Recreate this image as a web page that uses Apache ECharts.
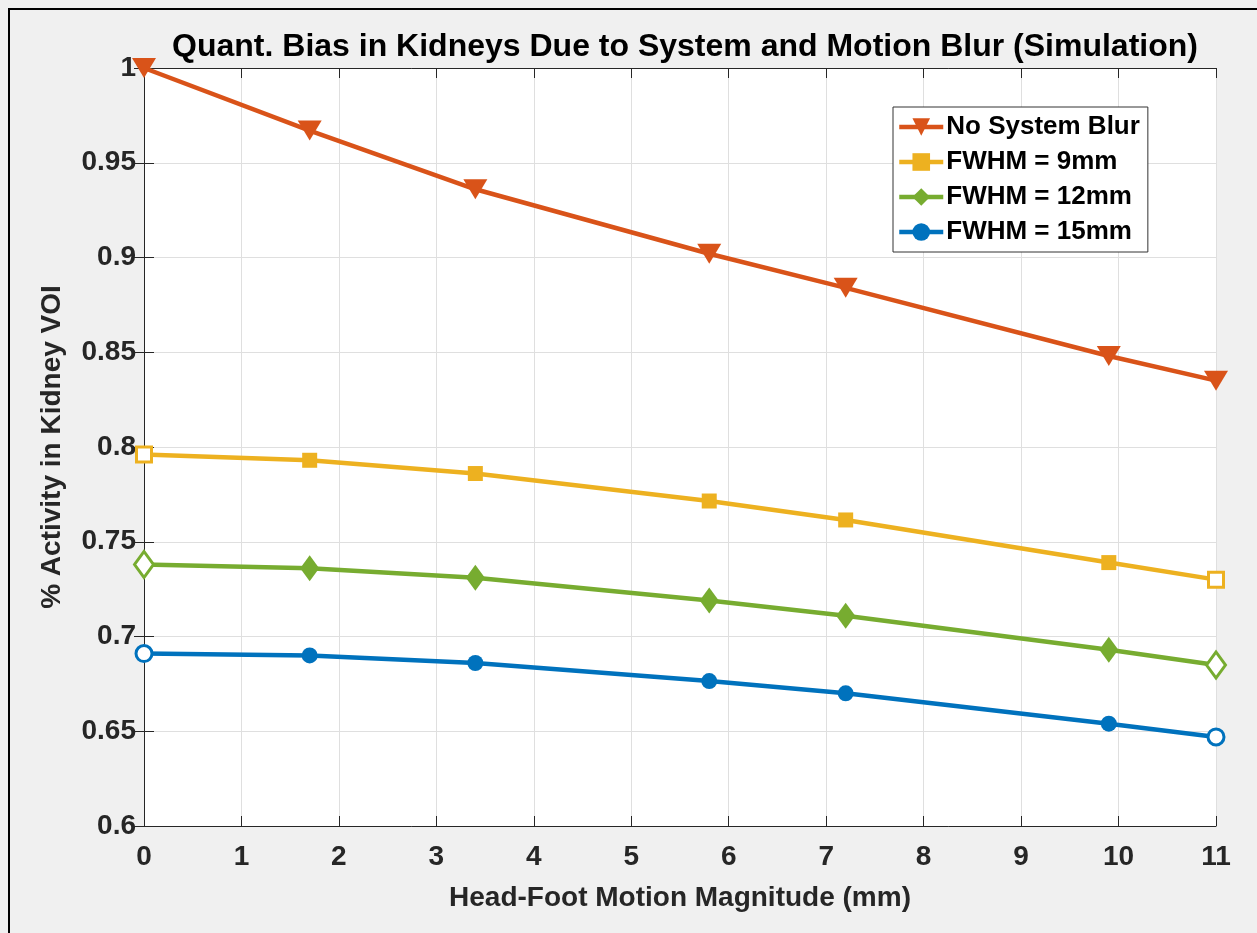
<!DOCTYPE html>
<html>
<head>
<meta charset="utf-8">
<script src="https://cdn.jsdelivr.net/npm/echarts@6/dist/echarts.min.js"></script>
<style>
  html, body { margin: 0; padding: 0; background: #f0f0f0; }
  #echart { width: 1257px; height: 933px; }
</style>
</head>
<body>
<div id="echart"></div>
<script>
// data
var motion = [0, 1.7, 3.4, 5.8, 7.2, 9.9, 11];
var noBlur = [1.0, 0.967, 0.936, 0.902, 0.884, 0.848, 0.835];
var fwhm9 = [0.796, 0.793, 0.786, 0.7715, 0.7615, 0.739, 0.730];
var fwhm12 = [0.738, 0.736, 0.731, 0.719, 0.711, 0.693, 0.685];
var fwhm15 = [0.691, 0.690, 0.686, 0.6765, 0.670, 0.654, 0.647];
var seriesNames = ['No System Blur', 'FWHM = 9mm', 'FWHM = 12mm', 'FWHM = 15mm'];

var myChart = echarts.init(document.getElementById('echart'));
var fontFam = '"Liberation Sans", Arial, sans-serif';
var txt = '#262626';

function pts(ys, color, hollowEnds) {
    var out = [];
    for (var i = 0; i < motion.length; i++) {
        var p = { value: [motion[i], ys[i]] };
        if (hollowEnds && (i === 0 || i === motion.length - 1)) {
            p.itemStyle = { color: '#ffffff', borderColor: color, borderWidth: 3 };
        }
        out.push(p);
    }
    return out;
}

function mkSeries(name, ys, color, symbol, size, rotate, hollowEnds) {
    return {
        name: name,
        type: 'line',
        data: pts(ys, color, hollowEnds),
        symbol: symbol,
        symbolSize: size,
        symbolRotate: rotate,
        showAllSymbol: true,
        clip: false,
        color: color,
        lineStyle: { width: 4.5, color: color },
        itemStyle: { color: color, borderWidth: 0 },
        emphasis: { disabled: true },
        z: 3
    };
}

var option = {
    backgroundColor: '#f0f0f0',
    animation: false,
    title: {
        text: 'Quant. Bias in Kidneys Due to System and Motion Blur (Simulation)',
        left: 680,
        textAlign: 'center',
        top: 26,
        textStyle: { fontFamily: fontFam, fontSize: 32, fontWeight: 'bold', color: '#000' }
    },
    legend: {
        orient: 'vertical',
        left: 893,
        top: 107,
        padding: [7, 8, 7, 4],
        itemGap: 9,
        itemWidth: 44,
        itemHeight: 22,
        backgroundColor: '#ffffff',
        borderColor: '#333333',
        borderWidth: 1,
        borderRadius: 0,
        lineStyle: { width: 4.5 },
        textStyle: { fontFamily: fontFam, fontSize: 26, fontWeight: 'bold', color: '#000', padding: [0, 0, 0, -2] },
        data: seriesNames
    },
    graphic: [{
        type: 'rect',
        shape: { x: 9, y: 9, width: 1400, height: 1100 },
        style: { fill: 'none', stroke: '#000', lineWidth: 2 },
        silent: true
    }],
    grid: {
        left: 144, right: 41, top: 68, bottom: 107,
        show: true, backgroundColor: '#ffffff', borderWidth: 0
    },
    xAxis: [{
        type: 'value', min: 0, max: 11, interval: 1,
        name: 'Head-Foot Motion Magnitude (mm)',
        nameLocation: 'middle', nameGap: 58,
        nameTextStyle: { fontFamily: fontFam, fontSize: 28, fontWeight: 'bold', color: txt },
        axisLine: { show: true, lineStyle: { color: '#262626', width: 1 } },
        axisTick: { show: true, inside: true, length: 10, lineStyle: { color: '#262626' } },
        axisLabel: { fontFamily: fontFam, fontSize: 28, fontWeight: 'bold', color: txt, margin: 17 },
        splitLine: { show: true, lineStyle: { color: '#dfdfdf', width: 1 } }
    }, {
        type: 'value', min: 0, max: 11, interval: 1, position: 'top',
        axisLine: { show: true, lineStyle: { color: '#262626', width: 1 } },
        axisTick: { show: true, inside: true, length: 10, lineStyle: { color: '#262626' } },
        axisLabel: { show: false },
        splitLine: { show: false }
    }],
    yAxis: [{
        type: 'value', min: 0.6, max: 1, interval: 0.05,
        name: '% Activity in Kidney VOI',
        nameLocation: 'middle', nameGap: 78,
        nameTextStyle: { fontFamily: fontFam, fontSize: 28, fontWeight: 'bold', color: txt },
        axisLine: { show: true, lineStyle: { color: '#262626', width: 1 } },
        axisTick: { show: true, inside: true, length: 10, lineStyle: { color: '#262626' } },
        axisLabel: {
            fontFamily: fontFam, fontSize: 28, fontWeight: 'bold', color: txt, margin: 8,
            formatter: function (v) { return String(parseFloat(v.toFixed(2))); }
        },
        splitLine: { show: true, lineStyle: { color: '#dfdfdf', width: 1 } }
    }, {
        type: 'value', min: 0.6, max: 1, interval: 0.05, position: 'right',
        axisLine: { show: true, lineStyle: { color: '#262626', width: 1 } },
        axisTick: { show: true, inside: true, length: 10, lineStyle: { color: '#262626' } },
        axisLabel: { show: false },
        splitLine: { show: false }
    }],
    series: [
        mkSeries(seriesNames[0], noBlur, '#D95319', 'triangle', [24, 20], 180, false),
        mkSeries(seriesNames[1], fwhm9, '#EDB120', 'rect', 15, 0, true),
        mkSeries(seriesNames[2], fwhm12, '#77AC30', 'diamond', [19, 26], 0, true),
        mkSeries(seriesNames[3], fwhm15, '#0072BD', 'circle', 16, 0, true)
    ]
};

myChart.setOption(option);
window.onresize = myChart.resize;
</script>
</body>
</html>
